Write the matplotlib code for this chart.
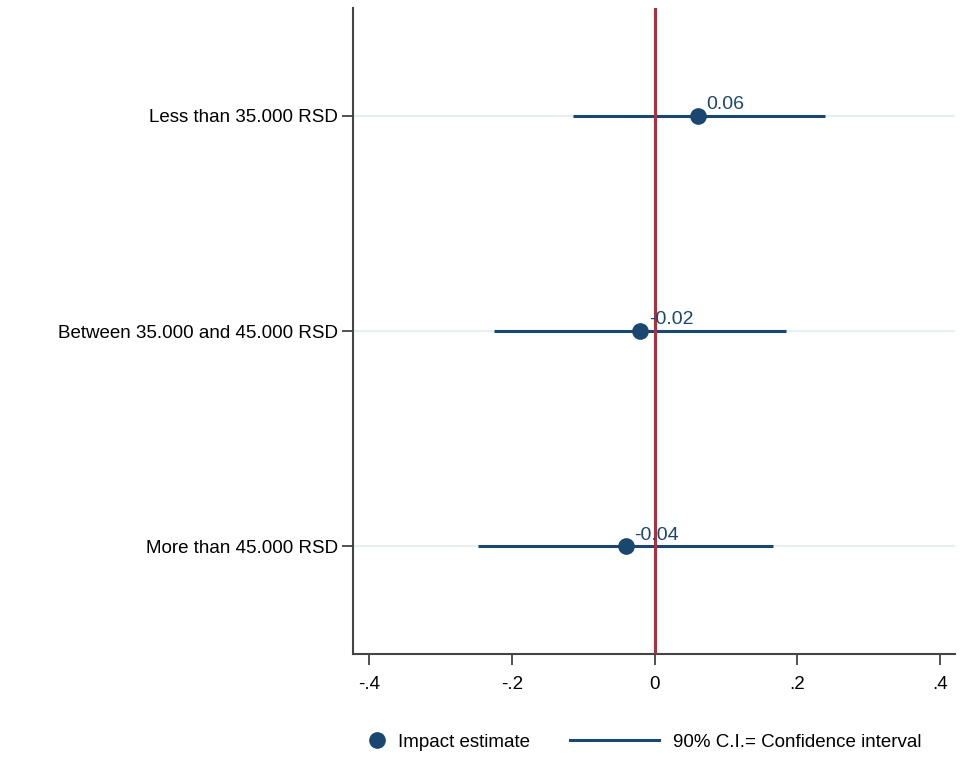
import numpy as np
import matplotlib
matplotlib.use('Agg')
import matplotlib.pyplot as plt
from matplotlib.lines import Line2D

# Grupos de renda e estimativas de impacto com IC de 90%
categorias = ["Less than 35.000 RSD", "Between 35.000 and 45.000 RSD", "More than 45.000 RSD"]
estimativas = [0.06, -0.02, -0.04]
ic_inferior = [-0.115, -0.226, -0.248]
ic_superior = [0.239, 0.184, 0.166]
ticks_x = [-0.4, -0.2, 0.0, 0.2, 0.4]
rotulos_x = ["-.4", "-.2", "0", ".2", ".4"]

azul = '#1a476f'
vermelho = '#a8323e'
fs = 13.5

plt.rcParams['font.family'] = ['Liberation Sans', 'DejaVu Sans']

fig = plt.figure(figsize=(9.78, 7.58), dpi=100)
ax = fig.add_axes([353 / 978, 104 / 758, 602 / 978, 646 / 758])

y = np.arange(1, len(categorias) + 1)

# Linhas de grade horizontais nas categorias
for yi in y:
    ax.axhline(yi, color='#e8eff1', linewidth=1.5, zorder=0)

# Intervalos de confiança e pontos estimados
ax.hlines(y, ic_inferior, ic_superior, color=azul, linewidth=2.2, zorder=2)
ax.axvline(0, color=vermelho, linewidth=2.2, zorder=3)
ax.plot(estimativas, y, 'o', color=azul, markersize=11, zorder=4)

for xi, yi in zip(estimativas, y):
    ax.annotate(f"{xi:.2f}", (xi, yi), xytext=(6, 2), textcoords='offset points',
                color=azul, fontsize=14, ha='left', va='bottom', zorder=5)

ax.set_xlim(-0.423, 0.421)
ax.set_ylim(3.5, 0.5)
ax.set_xticks(ticks_x)
ax.set_xticklabels(rotulos_x)
ax.set_yticks(y)
ax.set_yticklabels(categorias)
ax.tick_params(axis='both', labelsize=fs, color='#333333', length=8, width=1.2)
ax.tick_params(axis='x', pad=8)
ax.tick_params(axis='y', pad=3)

for lado in ['top', 'right']:
    ax.spines[lado].set_visible(False)
for lado in ['left', 'bottom']:
    ax.spines[lado].set_color('#444444')
    ax.spines[lado].set_linewidth(1.5)

# Legenda em duas partes, abaixo do gráfico
y_leg = 1 - 742 / 758
leg1 = fig.legend([Line2D([], [], marker='o', linestyle='none', color=azul, markersize=11)],
                  ["Impact estimate"], loc='center left', bbox_to_anchor=(366 / 978, y_leg),
                  frameon=False, fontsize=fs, handlelength=1.2, handletextpad=0.5,
                  borderpad=0, borderaxespad=0)
leg2 = fig.legend([Line2D([], [], color=azul, linewidth=2.2)],
                  ["90% C.I.= Confidence interval"], loc='center left',
                  bbox_to_anchor=(570 / 978, y_leg), frameon=False, fontsize=fs,
                  handlelength=4.75, handletextpad=0.75, borderpad=0, borderaxespad=0)

fig.savefig('out.png', dpi=100)
